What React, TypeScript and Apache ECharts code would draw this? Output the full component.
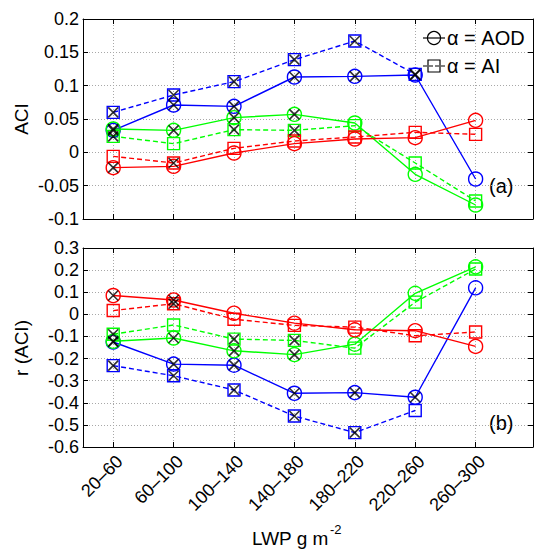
import React, { useEffect, useRef } from "react";
import * as echarts from "echarts";

const categories = ["20–60", "60–100", "100–140", "140–180", "180–220", "220–260", "260–300"];

// Panel (a): ACI
const aciBlueAOD = [0.033, 0.071, 0.069, 0.113, 0.114, 0.116, -0.04];
const aciBlueAI = [0.06, 0.086, 0.106, 0.139, 0.167, 0.117, null];
const aciGreenAOD = [0.035, 0.033, 0.052, 0.057, 0.044, -0.033, -0.079];
const aciGreenAI = [0.024, 0.013, 0.034, 0.033, 0.04, -0.016, -0.073];
const aciRedAOD = [-0.023, -0.021, -0.001, 0.013, 0.02, 0.022, 0.048];
const aciRedAI = [-0.006, -0.016, 0.006, 0.017, 0.023, 0.03, 0.027];

// significance flags (black X) for panel (a)
const sigABlueAOD = [1, 1, 1, 1, 1, 1, 0];
const sigABlueAI = [1, 1, 1, 1, 1, 1, 0];
const sigAGreenAOD = [1, 1, 1, 1, 0, 0, 0];
const sigAGreenAI = [1, 0, 1, 1, 0, 0, 0];
const sigARedAOD = [1, 0, 0, 0, 0, 0, 0];
const sigARedAI = [0, 1, 0, 0, 0, 0, 0];

// Panel (b): r (ACI)
const rBlueAOD = [-0.125, -0.225, -0.23, -0.357, -0.354, -0.375, 0.12];
const rBlueAI = [-0.232, -0.278, -0.342, -0.46, -0.535, -0.435, null];
const rGreenAOD = [-0.122, -0.107, -0.165, -0.182, -0.135, 0.095, 0.215];
const rGreenAI = [-0.09, -0.048, -0.112, -0.118, -0.153, 0.055, 0.205];
const rRedAOD = [0.085, 0.065, 0.005, -0.04, -0.07, -0.074, -0.145];
const rRedAI = [0.017, 0.048, -0.022, -0.05, -0.058, -0.097, -0.08];

const sigBBlueAOD = [1, 1, 1, 1, 1, 1, 0];
const sigBBlueAI = [1, 1, 1, 1, 1, 0, 0];
const sigBGreenAOD = [1, 1, 1, 1, 0, 0, 0];
const sigBGreenAI = [1, 0, 1, 1, 0, 0, 0];
const sigBRedAOD = [1, 1, 0, 0, 0, 0, 0];
const sigBRedAI = [0, 1, 0, 0, 0, 0, 0];

const aTicks = { min: -0.1, max: 0.2, interval: 0.05 };
const bTicks = { min: -0.6, max: 0.3, interval: 0.1 };

const BLUE = "#0000ff";
const GREEN = "#00ff00";
const RED = "#ff0000";
const FONT = "Liberation Sans";
const catPos = categories.map((_, i) => i + 1);

function toPairs(vals: (number | null)[]) {
  const out: number[][] = [];
  vals.forEach((v, i) => {
    if (v !== null) out.push([i + 1, v]);
  });
  return out;
}

function lineSeries(vals: (number | null)[], color: string, isAI: boolean, g: number) {
  return {
    type: "line",
    xAxisIndex: g * 2,
    yAxisIndex: g * 2,
    data: toPairs(vals),
    symbol: isAI ? "rect" : "circle",
    symbolSize: isAI ? 12 : 14,
    showAllSymbol: true,
    lineStyle: { color, width: 1.4, type: isAI ? [5, 3] : "solid" },
    itemStyle: { color: "rgba(0,0,0,0)", borderColor: color, borderWidth: 1.4 },
    z: 3,
    silent: true,
  };
}

function sigSeries(pairs: [(number | null)[], number[]][], g: number) {
  const data: number[][] = [];
  pairs.forEach(([vals, flags]) => {
    vals.forEach((v, i) => {
      if (v !== null && flags[i]) data.push([i + 1, v]);
    });
  });
  return {
    type: "scatter",
    xAxisIndex: g * 2,
    yAxisIndex: g * 2,
    data,
    symbol: "path://M0,0L10,10M10,0L0,10",
    symbolSize: 10,
    itemStyle: { color: "rgba(0,0,0,0)", borderColor: "#000", borderWidth: 1.6 },
    z: 4,
    silent: true,
  };
}

const fmtNum = (v: number) => {
  const r = Math.round(v * 100) / 100;
  return String(r === 0 ? 0 : r);
};

function xAxes(g: number) {
  const base = {
    type: "value",
    gridIndex: g,
    min: 0.5,
    max: 7.95,
    axisLine: { show: true, onZero: false, lineStyle: { color: "#000", width: 1 } },
    axisTick: { show: true, inside: true, length: 5, customValues: catPos, lineStyle: { color: "#000" } },
  };
  return [
    {
      ...base,
      position: "bottom",
      splitLine: { show: true, lineStyle: { color: "#a8a8a8", type: [1, 2], width: 1 } },
      axisLabel: {
        show: g === 1,
        customValues: catPos,
        formatter: (v: number) => categories[Math.round(v) - 1] ?? "",
        rotate: 45,
        fontSize: 18,
        fontFamily: FONT,
        color: "#000",
        margin: 5,
        verticalAlign: "top",
      },
    },
    {
      ...base,
      position: "top",
      splitLine: { show: false },
      axisLabel: { show: false },
    },
  ];
}

function yAxes(g: number, t: { min: number; max: number; interval: number }) {
  const base = {
    type: "value",
    gridIndex: g,
    min: t.min,
    max: t.max,
    interval: t.interval,
    axisLine: { show: true, onZero: false, lineStyle: { color: "#000", width: 1 } },
    axisTick: { show: true, inside: true, length: 5, lineStyle: { color: "#000" } },
  };
  return [
    {
      ...base,
      position: "left",
      splitLine: { show: true, lineStyle: { color: "#a8a8a8", type: [1, 2], width: 1 } },
      axisLabel: {
        show: true,
        formatter: fmtNum,
        fontSize: 18,
        fontFamily: FONT,
        color: "#000",
        margin: 4,
        showMinLabel: true,
        showMaxLabel: true,
      },
    },
    {
      ...base,
      position: "right",
      splitLine: { show: false },
      axisLabel: { show: false },
    },
  ];
}

export default function App() {
  const ref = useRef<HTMLDivElement>(null);
  useEffect(() => {
    if (!ref.current) return;
    const chart = echarts.init(ref.current, null, { renderer: "svg" });
    const option = {
      animation: false,
      backgroundColor: "#fff",
      grid: [
        { left: 83, top: 19, width: 450, height: 200, containLabel: false },
        { left: 83, top: 248, width: 450, height: 199, containLabel: false },
      ],
      xAxis: [...xAxes(0), ...xAxes(1)],
      yAxis: [...yAxes(0, aTicks), ...yAxes(1, bTicks)],
      series: [
        lineSeries(aciBlueAOD, BLUE, false, 0),
        lineSeries(aciBlueAI, BLUE, true, 0),
        lineSeries(aciGreenAOD, GREEN, false, 0),
        lineSeries(aciGreenAI, GREEN, true, 0),
        lineSeries(aciRedAOD, RED, false, 0),
        lineSeries(aciRedAI, RED, true, 0),
        sigSeries(
          [
            [aciBlueAOD, sigABlueAOD],
            [aciBlueAI, sigABlueAI],
            [aciGreenAOD, sigAGreenAOD],
            [aciGreenAI, sigAGreenAI],
            [aciRedAOD, sigARedAOD],
            [aciRedAI, sigARedAI],
          ],
          0
        ),
        lineSeries(rBlueAOD, BLUE, false, 1),
        lineSeries(rBlueAI, BLUE, true, 1),
        lineSeries(rGreenAOD, GREEN, false, 1),
        lineSeries(rGreenAI, GREEN, true, 1),
        lineSeries(rRedAOD, RED, false, 1),
        lineSeries(rRedAI, RED, true, 1),
        sigSeries(
          [
            [rBlueAOD, sigBBlueAOD],
            [rBlueAI, sigBBlueAI],
            [rGreenAOD, sigBGreenAOD],
            [rGreenAI, sigBGreenAI],
            [rRedAOD, sigBRedAOD],
            [rRedAI, sigBRedAI],
          ],
          1
        ),
      ],
      graphic: [
        {
          type: "text",
          x: 21,
          y: 119,
          rotation: Math.PI / 2,
          style: { text: "ACI", font: `19px ${FONT}`, fill: "#000", align: "center", verticalAlign: "middle" },
        },
        {
          type: "text",
          x: 21,
          y: 348,
          rotation: Math.PI / 2,
          style: { text: "r (ACI)", font: `19px ${FONT}`, fill: "#000", align: "center", verticalAlign: "middle" },
        },
        {
          type: "text",
          x: 252,
          y: 538,
          style: { text: "LWP g m", font: `19px ${FONT}`, fill: "#000", align: "left", verticalAlign: "middle" },
        },
        {
          type: "text",
          x: 330,
          y: 529,
          style: { text: "-2", font: `13px ${FONT}`, fill: "#000", align: "left", verticalAlign: "middle" },
        },
        {
          type: "text",
          x: 489,
          y: 186,
          style: { text: "(a)", font: `20px ${FONT}`, fill: "#000", align: "left", verticalAlign: "middle" },
        },
        {
          type: "text",
          x: 489,
          y: 423,
          style: { text: "(b)", font: `20px ${FONT}`, fill: "#000", align: "left", verticalAlign: "middle" },
        },
        // legend
        { type: "line", shape: { x1: 423, y1: 38, x2: 445, y2: 38 }, style: { stroke: "#000", lineWidth: 1.2 } },
        { type: "circle", shape: { cx: 434, cy: 38, r: 6.5 }, style: { fill: "none", stroke: "#000", lineWidth: 1.2 } },
        {
          type: "text",
          x: 447,
          y: 38,
          style: { text: "α = AOD", font: `20px ${FONT}`, fill: "#000", align: "left", verticalAlign: "middle" },
        },
        { type: "line", shape: { x1: 423, y1: 66, x2: 445, y2: 66 }, style: { stroke: "#000", lineWidth: 1.2, lineDash: [4, 2] } },
        { type: "rect", shape: { x: 428, y: 60, width: 12, height: 12 }, style: { fill: "none", stroke: "#000", lineWidth: 1.2 } },
        {
          type: "text",
          x: 447,
          y: 66,
          style: { text: "α = AI", font: `20px ${FONT}`, fill: "#000", align: "left", verticalAlign: "middle" },
        },
      ],
    };
    chart.setOption(option as any);
    return () => chart.dispose();
  }, []);
  return (
    <div
      ref={ref}
      style={{ position: "fixed", left: 0, top: 0, width: 534, height: 550, background: "#fff" }}
    />
  );
}
